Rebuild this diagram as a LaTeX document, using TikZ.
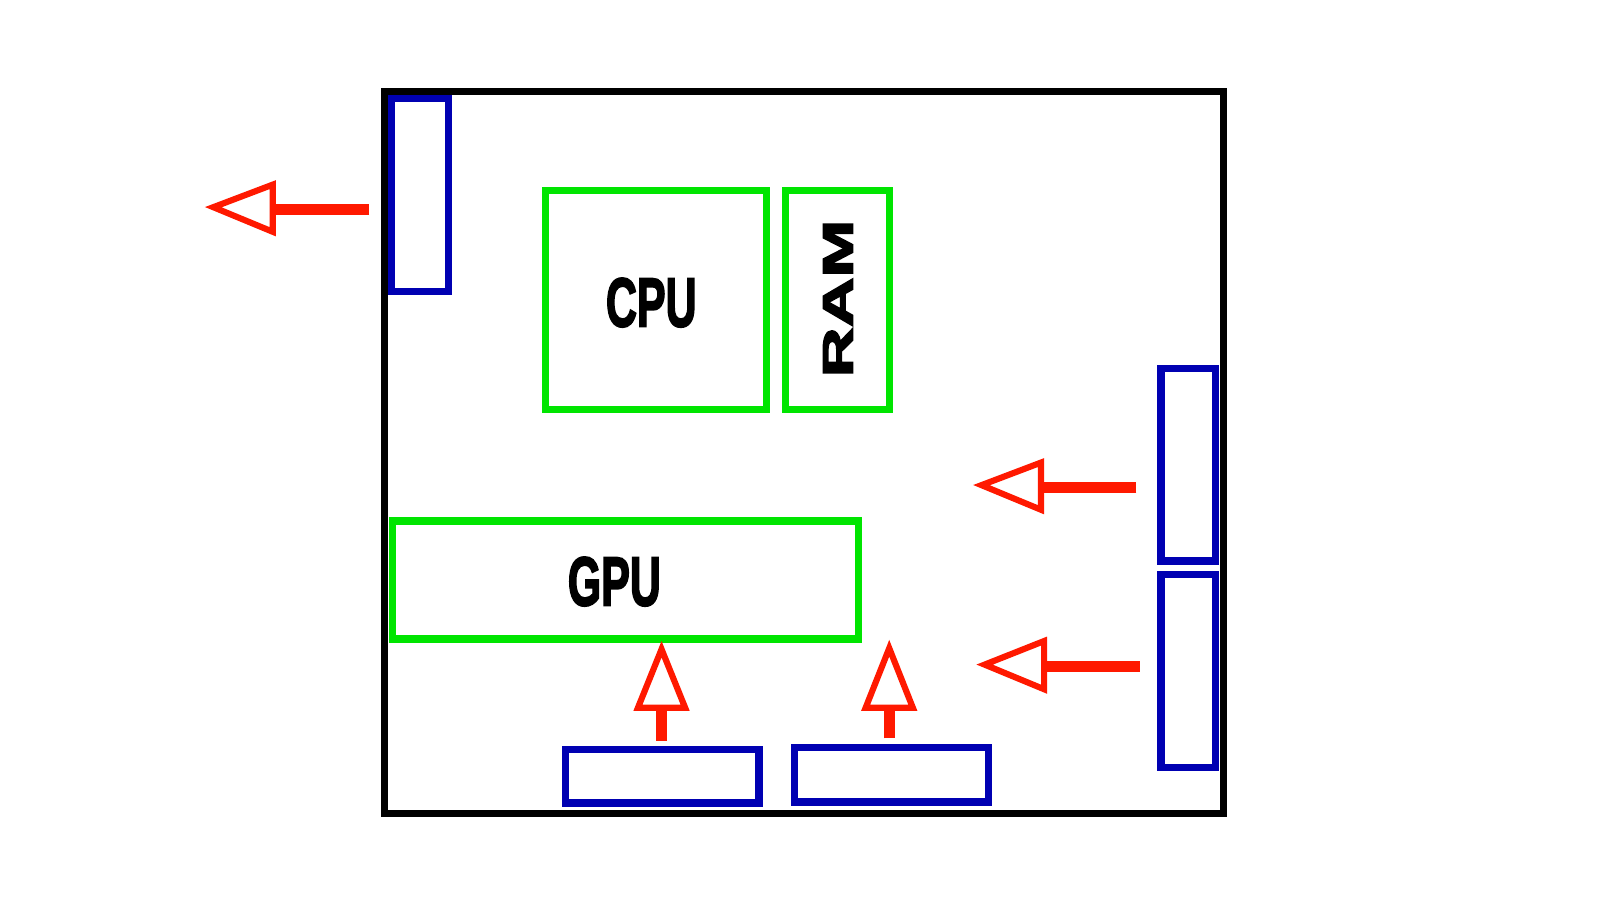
\documentclass[tikz,border=0pt]{standalone}
\usepackage{fontspec}
\setmainfont{Liberation Sans}
\newfontfamily\heavy{Liberation Sans Bold}[FakeBold=3]
\begin{document}
\begin{tikzpicture}[x=0.05cm,y=-0.05cm,
  blk/.style={draw=black,line width=7*0.05cm},
  blu/.style={draw=blue!70!black,line width=7*0.05cm},
  grn/.style={draw=green!90!black,line width=7*0.05cm},
  redl/.style={draw=red!80!orange,line width=6*0.05cm,line join=miter},
  shaft/.style={draw=red!80!orange,line width=11*0.05cm},
  lbl/.style={font=\fontsize{96}{96}\heavy,xscale=0.62}]
\useasboundingbox (0,0) rectangle (1560,877.5);
\draw[blk] (375,89) rectangle (1193,793);
\draw[blu] (382,96) rectangle (437,284);
\draw[blu] (1132,359) rectangle (1185,547);
\draw[blu] (1132,560) rectangle (1185,748);
\draw[blu] (551,731) rectangle (740,783);
\draw[blu] (775,729) rectangle (964,782);
\draw[grn] (532,186) rectangle (747,399);
\draw[grn] (766,186) rectangle (867,399);
\draw[grn] (383,508) rectangle (837,623);
\node[lbl] (cpu) at (635,295) {CPU};
\node[lbl,rotate=90] (ram) at (817,291) {RAM};
\node[lbl] (gpu) at (599,567) {GPU};
% arrows
\draw[shaft] (360,204) -- (264,204);
\draw[redl] (208,202) -- (266,180) -- (266,226) -- cycle;
\draw[shaft] (1108,475) -- (1013,475);
\draw[redl] (957,473) -- (1015,451) -- (1015,497) -- cycle;
\draw[shaft] (1111,650) -- (1016,650);
\draw[redl] (960,648) -- (1018,625) -- (1018,672) -- cycle;
\draw[shaft] (645,722) -- (645,688);
\draw[redl] (645,633) -- (622,690) -- (668,690) -- cycle;
\draw[shaft] (867,720) -- (867,688);
\draw[redl] (867,632) -- (844,690) -- (890,690) -- cycle;
\end{tikzpicture}
\end{document}
